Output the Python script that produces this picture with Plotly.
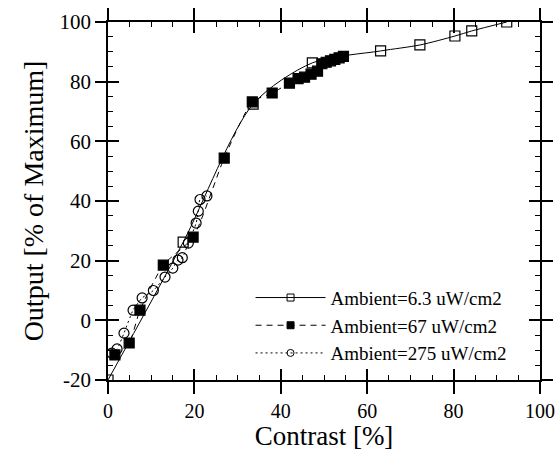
import plotly.graph_objects as go

# Series 1: Ambient = 6.3 uW/cm2 (open squares, solid line)
s1_x = [0.0, 17.4, 33.6, 47.3, 63.1, 72.2, 80.3, 84.2, 92.3]
s1_y = [-20.0, 26.2, 72.5, 86.3, 90.3, 92.3, 95.3, 97.0, 100.0]

# Series 2: Ambient = 67 uW/cm2 (filled squares, dashed line)
s2_x = [1.6, 4.9, 7.4, 12.8, 19.7, 26.9, 33.4, 38.0, 42.0, 44.0, 45.5, 47.0, 48.5,
        49.5, 50.5, 51.5, 52.5, 53.5, 54.5]
s2_y = [-11.6, -7.6, 3.4, 18.5, 27.9, 54.4, 73.2, 76.2, 79.5, 81.0, 81.5, 82.5, 83.5,
        86.0, 86.5, 87.0, 87.5, 88.0, 88.5]

# Series 3: Ambient = 275 uW/cm2 (open circles, dotted line)
s3_x = [0.9, 2.1, 3.7, 5.8, 7.9, 10.5, 13.2, 15.0, 16.2, 17.2, 18.6, 20.4, 20.9, 21.3, 22.9]
s3_y = [-11.0, -9.6, -4.3, 3.4, 7.5, 10.0, 14.5, 17.5, 20.2, 21.0, 25.9, 32.6, 36.6, 40.5, 41.7]

names = ["Ambient=6.3 uW/cm2", "Ambient=67 uW/cm2", "Ambient=275 uW/cm2"]

x_ticks = [0, 20, 40, 60, 80, 100]
x_ticktext = ["0", "20", "40", "60", "80", "100"]
y_ticks = [-20, 0, 20, 40, 60, 80, 100]
y_ticktext = ["-20", "0", "20", "40", "60", "80", "100"]

FONT = "Liberation Serif, Times New Roman, serif"

series = [
    (s1_x, s1_y, names[0], "solid", "square-open", 0.8),
    (s2_x, s2_y, names[1], "6px,5px", "square", 0.6),
    (s3_x, s3_y, names[2], "2px,3px", "circle-open", 0.6),
]

fig = go.Figure()
for sx, sy, nm, dash, sym, sm in series:
    fig.add_trace(go.Scatter(
        x=sx, y=sy, name=nm, mode="lines+markers", showlegend=False,
        line=dict(color="black", width=1, dash=dash, shape="spline", smoothing=sm),
        marker=dict(symbol=sym, size=10, color="black", line=dict(width=1.2, color="black")),
    ))
# legend-only entries (smaller legend symbols, as in the reference)
for sx, sy, nm, dash, sym, sm in series:
    fig.add_trace(go.Scatter(
        x=[None], y=[None], name=nm, mode="lines+markers", showlegend=True,
        hoverinfo="skip",
        line=dict(color="black", width=1, dash=dash),
        marker=dict(symbol=sym, size=7, color="black", line=dict(width=1, color="black")),
    ))
# helper trace to activate the overlay axes (inside ticks)
fig.add_trace(go.Scatter(x=[None], y=[None], xaxis="x2", yaxis="y2",
                         showlegend=False, hoverinfo="skip"))

axis_common = dict(showgrid=False, zeroline=False, linecolor="black", linewidth=1.5,
                   automargin=False)

fig.update_layout(
    width=558, height=451,
    margin=dict(l=108, r=18, t=22, b=71),
    paper_bgcolor="white", plot_bgcolor="white",
    font=dict(family=FONT, color="black", size=21),
    xaxis=dict(range=[0, 100], tickvals=x_ticks, ticktext=x_ticktext,
               ticks="outside", ticklen=12,
               tickwidth=1.5, tickcolor="black", mirror="ticks",
               title=dict(text="Contrast [%]", font=dict(size=27), standoff=6),
               tickfont=dict(size=20), **axis_common),
    yaxis=dict(range=[-20, 100], tickvals=y_ticks, ticktext=y_ticktext,
               ticks="outside", ticklen=11,
               tickwidth=1.5, tickcolor="black", mirror="ticks",
               title=dict(text="Output [% of Maximum]", font=dict(size=28), standoff=8),
               tickfont=dict(size=21), **axis_common),
    xaxis2=dict(range=[0, 100], overlaying="x", matches="x", tickvals=x_ticks,
                ticks="inside", ticklen=11, tickwidth=1.5, tickcolor="black",
                mirror="ticks", showticklabels=False, side="bottom",
                minor=dict(dtick=5, ticks="inside", ticklen=5, tickcolor="black", tickwidth=1),
                **axis_common),
    yaxis2=dict(range=[-20, 100], overlaying="y", matches="y", tickvals=y_ticks,
                ticks="inside", ticklen=11, tickwidth=1.5, tickcolor="black",
                mirror="ticks", showticklabels=False, side="left",
                minor=dict(dtick=5, ticks="inside", ticklen=5, tickcolor="black", tickwidth=1),
                **axis_common),
    legend=dict(x=0.33, y=0.283, xanchor="left", yanchor="top",
                bgcolor="rgba(0,0,0,0)", font=dict(size=19, family=FONT),
                itemwidth=70, tracegroupgap=0),
)

fig.write_html("out.html", config={"displayModeBar": False},
               post_script="document.body.style.margin='0';document.body.style.overflow='hidden';")
